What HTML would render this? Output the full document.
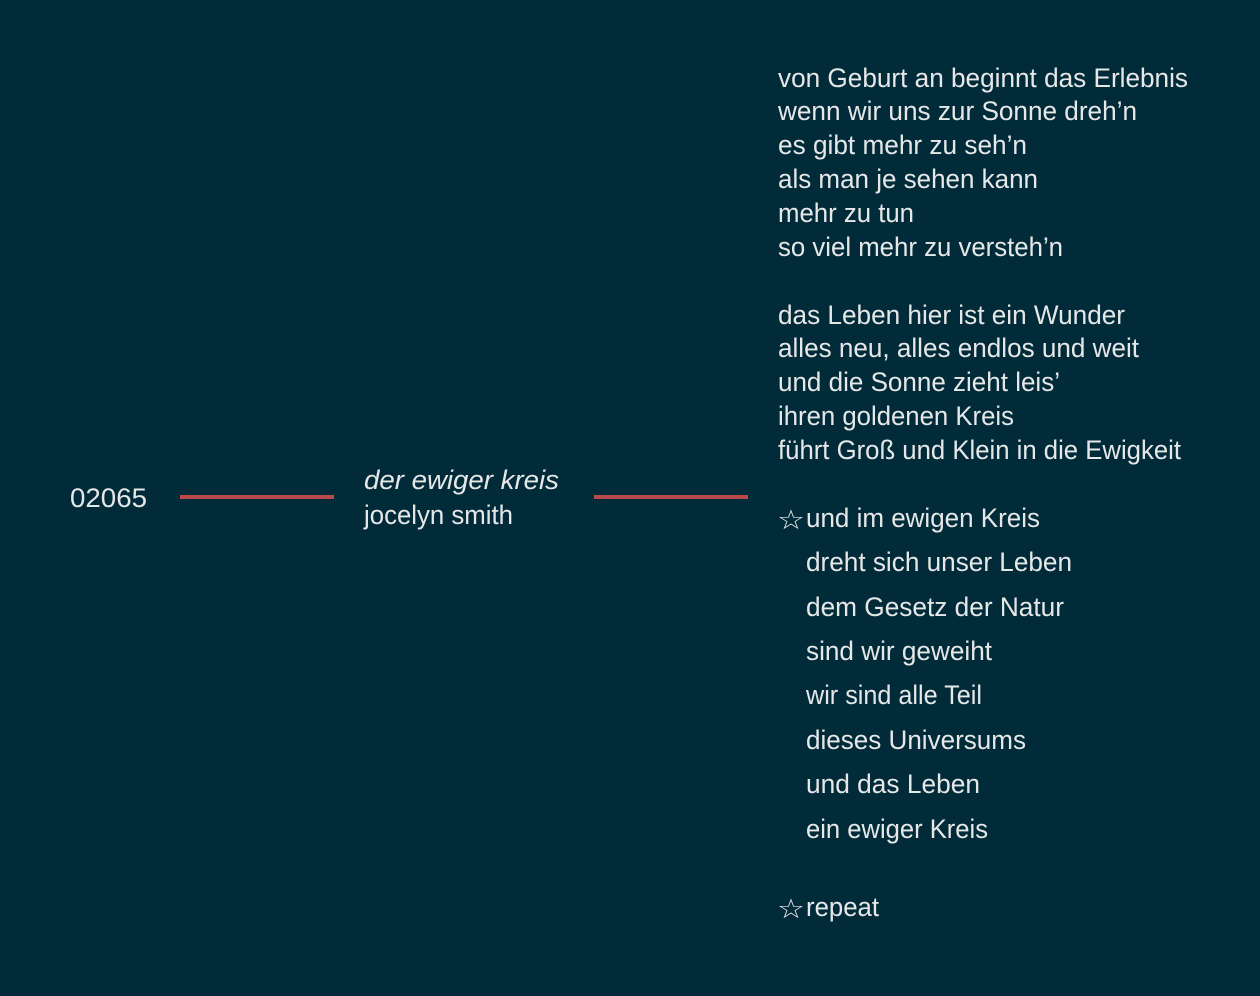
<!DOCTYPE html>
<html><head><meta charset="utf-8"><style>
html,body{margin:0;padding:0;background:#022b3a;}
svg{display:block}
text{font-family:"Liberation Sans",sans-serif;fill:#e6e8e8;font-size:27px;}
</style></head><body>
<svg width="1260" height="996" viewBox="0 0 1260 996" xmlns="http://www.w3.org/2000/svg">
<rect width="1260" height="996" fill="#022b3a"/>
<rect x="180" y="495" width="154" height="4" fill="#b84a4a"/>
<rect x="594" y="495" width="154" height="4" fill="#b84a4a"/>
<text x="70" y="507" textLength="77" lengthAdjust="spacingAndGlyphs">02065</text>
<text x="364" y="489" font-style="italic" textLength="195" lengthAdjust="spacingAndGlyphs">der ewiger kreis</text>
<text x="364" y="524" textLength="149" lengthAdjust="spacingAndGlyphs">jocelyn smith</text>
<text x="778" y="87" textLength="410" lengthAdjust="spacingAndGlyphs">von Geburt an beginnt das Erlebnis</text>
<text x="778" y="120" textLength="359" lengthAdjust="spacingAndGlyphs">wenn wir uns zur Sonne dreh’n</text>
<text x="778" y="154" textLength="249" lengthAdjust="spacingAndGlyphs">es gibt mehr zu seh’n</text>
<text x="778" y="188" textLength="260" lengthAdjust="spacingAndGlyphs">als man je sehen kann</text>
<text x="778" y="222" textLength="136" lengthAdjust="spacingAndGlyphs">mehr zu tun</text>
<text x="778" y="256" textLength="285" lengthAdjust="spacingAndGlyphs">so viel mehr zu versteh’n</text>
<text x="778" y="324" textLength="347" lengthAdjust="spacingAndGlyphs">das Leben hier ist ein Wunder</text>
<text x="778" y="357" textLength="361" lengthAdjust="spacingAndGlyphs">alles neu, alles endlos und weit</text>
<text x="778" y="391" textLength="282" lengthAdjust="spacingAndGlyphs">und die Sonne zieht leis’</text>
<text x="778" y="425" textLength="236" lengthAdjust="spacingAndGlyphs">ihren goldenen Kreis</text>
<text x="778" y="459" textLength="403" lengthAdjust="spacingAndGlyphs">führt Groß und Klein in die Ewigkeit</text>
<text x="777" y="529" font-size="31" textLength="28" lengthAdjust="spacingAndGlyphs">☆</text>
<text x="806" y="527" textLength="234" lengthAdjust="spacingAndGlyphs">und im ewigen Kreis</text>
<text x="806" y="571" textLength="266" lengthAdjust="spacingAndGlyphs">dreht sich unser Leben</text>
<text x="806" y="616" textLength="258" lengthAdjust="spacingAndGlyphs">dem Gesetz der Natur</text>
<text x="806" y="660" textLength="186" lengthAdjust="spacingAndGlyphs">sind wir geweiht</text>
<text x="806" y="704" textLength="176" lengthAdjust="spacingAndGlyphs">wir sind alle Teil</text>
<text x="806" y="749" textLength="220" lengthAdjust="spacingAndGlyphs">dieses Universums</text>
<text x="806" y="793" textLength="174" lengthAdjust="spacingAndGlyphs">und das Leben</text>
<text x="806" y="838" textLength="182" lengthAdjust="spacingAndGlyphs">ein ewiger Kreis</text>
<text x="777" y="918" font-size="31" textLength="28" lengthAdjust="spacingAndGlyphs">☆</text>
<text x="806" y="916" textLength="73" lengthAdjust="spacingAndGlyphs">repeat</text>
</svg>
</body></html>
